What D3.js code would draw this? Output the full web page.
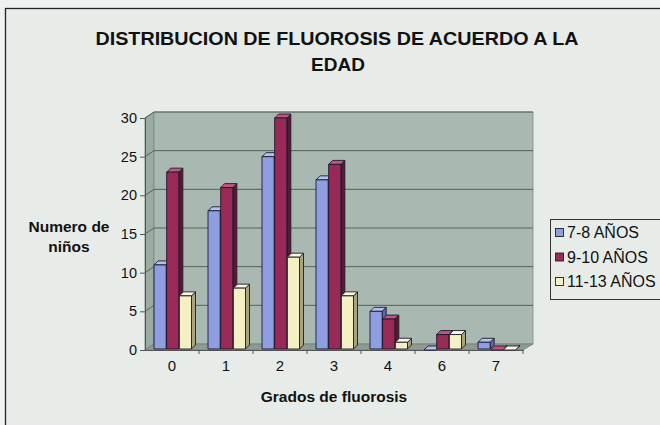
<!DOCTYPE html>
<html><head><meta charset="utf-8">
<script src="https://cdn.jsdelivr.net/npm/d3@7"></script>
<style>body{margin:0;background:#f1f3f1}svg{display:block}</style>
</head><body>
<script>
const categories = ["0","1","2","3","4","6","7"];
const seriesNames = ["7-8 AÑOS","9-10 AÑOS","11-13 AÑOS"];
const values78 = [11,18,25,22,5,0,1];
const values910 = [23,21,30,24,4,2,0];
const values1113 = [7,8,12,7,1,2,0];
const yTicks = [0,5,10,15,20,25,30];

const seriesValues = [values78, values910, values1113];
const colors = [
  {front:"#8e9ee0", top:"#b4c0ee", side:"#5c6ab0"},
  {front:"#992a57", top:"#c0557f", side:"#5e1632"},
  {front:"#f4f0c4", top:"#fbf9e2", side:"#a8a37a"}
];

const W=660,H=425;
const font="Liberation Sans, Arial, sans-serif";
const svg=d3.select("body").append("svg").attr("width",W).attr("height",H);
svg.append("rect").attr("width",W).attr("height",H).attr("fill","#eef1ef");
svg.append("rect").attr("x",5.5).attr("y",8.5).attr("width",670).attr("height",430)
  .attr("fill","#e7ece9").attr("stroke","#222").attr("stroke-width",1.3);

const x = d3.scaleBand().domain(categories).range([145,523]);
const xs = d3.scaleBand().domain(seriesNames).range([9,47]);
const y = d3.scaleLinear().domain([0,30]).range([350,118]);
const DX=9, DY=-6; // wall depth
const bx=4, by=-4;  // bar depth
const x0=x.range()[0], x1=x.range()[1];

// side wall
svg.append("polygon").attr("points",[[x0,y(30)],[x0+DX,y(30)+DY],[x0+DX,y(0)+DY],[x0,y(0)]].join(" "))
  .attr("fill","#9aaba2").attr("stroke","#6f7d75").attr("stroke-width",0.8);
// back wall
svg.append("polygon").attr("points",[[x0+DX,y(30)+DY],[x1+DX+1,y(30)+DY],[x1+DX+1,y(0)+DY],[x0+DX,y(0)+DY]].join(" "))
  .attr("fill","#a9b9b1").attr("stroke","#7d8b84").attr("stroke-width",0.8);
// floor
svg.append("polygon").attr("points",[[x0,y(0)],[x0+DX,y(0)+DY],[x1+DX+1,y(0)+DY],[x1,y(0)]].join(" "))
  .attr("fill","#8e9b94").attr("stroke","#6f7d75").attr("stroke-width",0.8);

// gridlines
const grid=svg.append("g");
yTicks.filter(t=>t>0).forEach(t=>{
  grid.append("line").attr("x1",x0+DX).attr("x2",x1+DX+1).attr("y1",y(t)+DY).attr("y2",y(t)+DY)
    .attr("stroke","#55625b").attr("stroke-width",1);
  grid.append("line").attr("x1",x0).attr("x2",x0+DX).attr("y1",y(t)).attr("y2",y(t)+DY)
    .attr("stroke","#55625b").attr("stroke-width",1);
});

// axes
const yAxis = d3.axisLeft(y).tickValues(yTicks).tickSize(5).tickPadding(3);
const gy=svg.append("g").attr("transform",`translate(${x0},0)`).call(yAxis);
gy.select(".domain").attr("stroke","#555");
gy.selectAll(".tick line").attr("stroke","#555");
gy.selectAll("text").attr("font-family",font).attr("font-size",14.5).attr("fill","#111");

const xAxis = d3.axisBottom(x).tickSize(0).tickPadding(10);
const gx=svg.append("g").attr("transform",`translate(0,${y(0)})`).call(xAxis);
gx.select(".domain").attr("stroke","#555");
gx.selectAll("text").attr("font-family",font).attr("font-size",15).attr("fill","#111");
// band boundary ticks
gx.selectAll(".bt").data(categories.slice(1).concat(["end"])).enter().append("line")
  .attr("x1",(d,i)=>x0+(i+1)*x.bandwidth()).attr("x2",(d,i)=>x0+(i+1)*x.bandwidth())
  .attr("y1",0).attr("y2",4).attr("stroke","#555");

// bars
const bars=svg.append("g");
categories.forEach((c,ci)=>{
  seriesNames.forEach((s,si)=>{
    const v=seriesValues[si][ci];
    const left=x(c)+xs(s), w=xs.bandwidth()-0.5;
    const top=y(v), bot=y(0)-1;
    const col=colors[si];
    const g=bars.append("g").attr("stroke","#1b1b2e").attr("stroke-width",0.9).attr("stroke-linejoin","round");
    g.append("polygon").attr("points",[[left+w,top],[left+w+bx,top+by],[left+w+bx,bot+by],[left+w,bot]].join(" ")).attr("fill",col.side);
    g.append("polygon").attr("points",[[left,top],[left+bx,top+by],[left+w+bx,top+by],[left+w,top]].join(" ")).attr("fill",col.top);
    g.append("rect").attr("x",left).attr("y",top).attr("width",w).attr("height",Math.max(0,bot-top)).attr("fill",col.front);
  });
});

// title
svg.append("text").attr("x",337).attr("y",45).attr("text-anchor","middle").attr("font-family",font)
  .attr("font-weight","bold").attr("font-size",19).attr("textLength",483).attr("lengthAdjust","spacingAndGlyphs")
  .attr("fill","#111").text("DISTRIBUCION DE FLUOROSIS DE ACUERDO A LA");
svg.append("text").attr("x",338).attr("y",71).attr("text-anchor","middle").attr("font-family",font)
  .attr("font-weight","bold").attr("font-size",19).attr("fill","#111").text("EDAD");
// axis titles
svg.append("text").attr("x",69).attr("y",232).attr("text-anchor","middle").attr("font-family",font)
  .attr("font-weight","bold").attr("font-size",15.5).attr("fill","#111").text("Numero de");
svg.append("text").attr("x",69).attr("y",252).attr("text-anchor","middle").attr("font-family",font)
  .attr("font-weight","bold").attr("font-size",15.5).attr("fill","#111").text("niños");
svg.append("text").attr("x",334).attr("y",402).attr("text-anchor","middle").attr("font-family",font)
  .attr("font-weight","bold").attr("font-size",15.5).attr("fill","#111").text("Grados de fluorosis");

// legend
const lg=svg.append("g");
lg.append("rect").attr("x",550.5).attr("y",219.5).attr("width",115).attr("height",80)
  .attr("fill","#e7ece9").attr("stroke","#333").attr("stroke-width",1);
seriesNames.forEach((s,i)=>{
  const yy=238+i*24.5;
  lg.append("rect").attr("x",555.5).attr("y",yy-9.5).attr("width",8).attr("height",8)
    .attr("fill",colors[i].front).attr("stroke","#222").attr("stroke-width",0.9);
  lg.append("text").attr("x",567).attr("y",yy).attr("font-family",font).attr("font-size",16)
    .attr("fill","#111").text(s);
});
</script>
</body></html>
